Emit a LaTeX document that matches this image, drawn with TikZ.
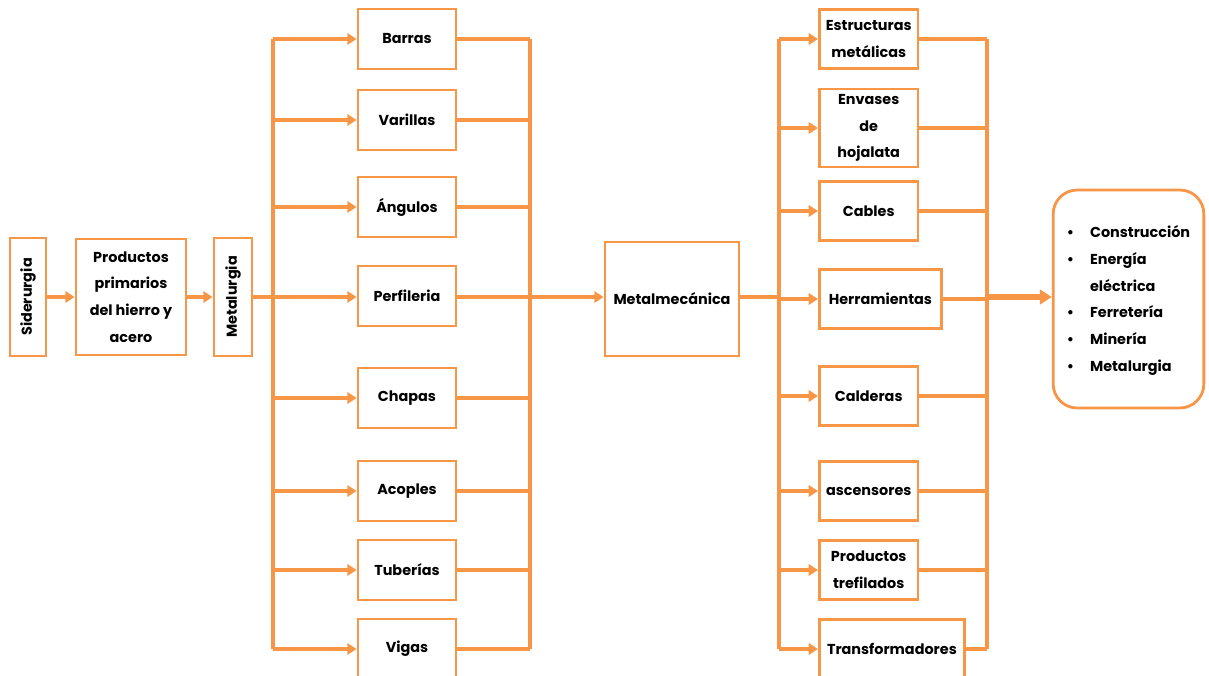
\documentclass[tikz,border=0pt]{standalone}
\usepackage{fontspec}
\setmainfont{Poppins}
\usepackage{xcolor}
\usepackage{tikz}
\usetikzlibrary{arrows.meta,positioning}
\definecolor{orng}{HTML}{F79646}

\begin{document}
\begin{tikzpicture}[x=0.75pt,y=-0.75pt,
box/.style={draw=orng,line width=2.1pt,fill=white,align=center,inner sep=1pt,font=\bfseries\fontsize{10.8}{20}\selectfont},
lbox/.style={box,minimum width=73.5pt,minimum height=45pt},
rbox/.style={box,anchor=west,minimum width=74pt,minimum height=44pt},
ln/.style={draw=orng,line width=2.3pt},
arr/.style={ln,-{Triangle[length=7pt,width=8.5pt]}}]
\useasboundingbox (0,0) rectangle (1209,675);
% first stage
\node[box,rotate=90,minimum width=88.5pt,minimum height=27pt] (sider) at (28,297) {Siderurgia};
\node[box,minimum width=82.5pt,minimum height=87pt] (prim) at (131,297) {Productos\\primarios\\del hierro y\\acero};
\node[box,rotate=90,minimum width=88.5pt,minimum height=28.5pt] (metal) at (233,297) {Metalurgia};
\draw[arr] (sider) -- (prim); \draw[arr] (prim) -- (metal);
% metalurgia products
\node[lbox] (barras) at (407,39) {Barras};
\node[lbox] (varil) at (407,120) {Varillas};
\node[lbox] (angul) at (407,207) {Ángulos};
\node[lbox] (perfil) at (407,296) {Perfileria};
\node[lbox] (chapas) at (407,398) {Chapas};
\node[lbox] (acopl) at (407,491) {Acoples};
\node[lbox] (tuber) at (407,570) {Tuberías};
\node[lbox] (vigas) at (407,649) {Vigas};
\coordinate (lbusL) at (273,297);
\coordinate (lbusR) at (530,297);
\draw[ln] (metal) -- (lbusL);
\draw[ln] (lbusL|-barras) -- (lbusL|-vigas);
\draw[ln] (lbusR|-barras) -- (lbusR|-vigas);
\draw[arr] (lbusL|-barras) -- (barras); \draw[arr] (lbusL|-varil) -- (varil);
\draw[arr] (lbusL|-angul) -- (angul); \draw[arr] (lbusL) -- (perfil.west|-lbusL);
\draw[arr] (lbusL|-chapas) -- (chapas); \draw[arr] (lbusL|-acopl) -- (acopl);
\draw[arr] (lbusL|-tuber) -- (tuber); \draw[arr] (lbusL|-vigas) -- (vigas);
\draw[ln] (barras) -- (lbusR|-barras); \draw[ln] (varil) -- (lbusR|-varil);
\draw[ln] (angul) -- (lbusR|-angul);
\draw[ln] (chapas) -- (lbusR|-chapas); \draw[ln] (acopl) -- (lbusR|-acopl);
\draw[ln] (tuber) -- (lbusR|-tuber); \draw[ln] (vigas) -- (lbusR|-vigas);
% metalmecanica
\node[box,minimum width=100.5pt,minimum height=85.5pt] (metmec) at (672,299) {Metalmecánica};
\draw[arr] (perfil.east|-lbusR) -- (metmec.west|-lbusR);
% metalmecanica products
\node[rbox] (estruc) at (818,39) {Estructuras\\metálicas};
\node[rbox,minimum height=58.5pt,inner sep=0pt] (envas) at (818,128) {Envases\\de\\hojalata};
\node[rbox] (cables) at (818,211) {Cables};
\node[rbox,minimum width=91.5pt] (herram) at (818,299) {Herramientas};
\node[rbox] (calder) at (818,396) {Calderas};
\node[rbox] (ascen) at (818,491) {ascensores};
\node[rbox] (trefil) at (818,570) {Productos\\trefilados};
\node[rbox,minimum width=108.75pt] (transf) at (818,649) {Transformadores};
\coordinate (rbusL) at (779,297);
\coordinate (rbusR) at (987,297);
\draw[ln] (metmec.east|-rbusL) -- (rbusL);
\draw[ln] (rbusL|-estruc) -- (rbusL|-transf);
\draw[ln] (rbusR|-estruc) -- (rbusR|-transf);
\draw[arr] (rbusL|-estruc) -- (estruc); \draw[arr] (rbusL|-envas) -- (envas);
\draw[arr] (rbusL|-cables) -- (cables); \draw[arr] (rbusL|-herram) -- (herram);
\draw[arr] (rbusL|-calder) -- (calder); \draw[arr] (rbusL|-ascen) -- (ascen);
\draw[arr] (rbusL|-trefil) -- (trefil); \draw[arr] (rbusL|-transf) -- (transf);
\draw[ln] (estruc) -- (rbusR|-estruc); \draw[ln] (envas) -- (rbusR|-envas);
\draw[ln] (cables) -- (rbusR|-cables); \draw[ln] (herram) -- (rbusR|-herram);
\draw[ln] (calder) -- (rbusR|-calder); \draw[ln] (ascen) -- (rbusR|-ascen);
\draw[ln] (trefil) -- (rbusR|-trefil); \draw[ln] (transf) -- (rbusR|-transf);
% sectors
\node[box,rounded corners=18pt,minimum width=113pt,minimum height=163.5pt] (sector) at (1128.5,299) {\begin{tabular}{@{}l@{\hspace{12pt}}l@{}}
\textbullet & Construcción\\
\textbullet & Energía\\
 & eléctrica\\
\textbullet & Ferretería\\
\textbullet & Minería\\
\textbullet & Metalurgia
\end{tabular}};
\draw[ln,line width=4pt,-{Triangle[length=9pt,width=11pt]}] (rbusR) -- (sector.west|-rbusR);
\end{tikzpicture}
\end{document}
